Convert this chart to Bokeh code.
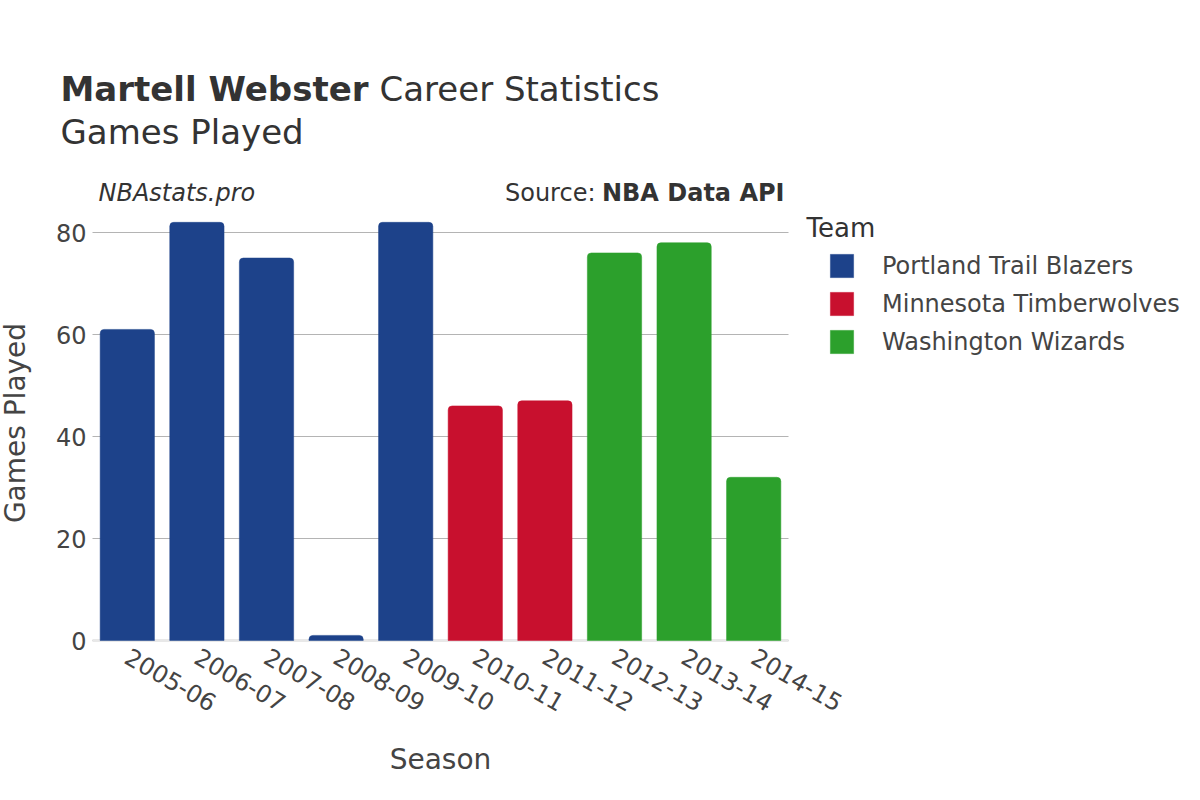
import math
from bokeh.plotting import figure
from bokeh.models import (ColumnDataSource, Range1d, Label, Legend, LegendItem,
                          FixedTicker, LinearAxis, Grid)
from bokeh.embed import file_html
from bokeh.resources import INLINE

# ---- data ----
seasons = ["2005-06", "2006-07", "2007-08", "2008-09", "2009-10",
           "2010-11", "2011-12", "2012-13", "2013-14", "2014-15"]
games = [61, 82, 75, 1, 82, 46, 47, 76, 78, 32]
teams = ["Portland Trail Blazers"] * 5 + ["Minnesota Timberwolves"] * 2 + ["Washington Wizards"] * 3
team_order = ["Portland Trail Blazers", "Minnesota Timberwolves", "Washington Wizards"]
team_colors = ["#1D428A", "#C8102E", "#2CA02C"]
y_ticks = [0, 20, 40, 60, 80]
y_max = 85.3

# ---- layout (screen pixels) ----
FONT = "DejaVu Sans"
TXT = "#444444"
DARK = "#333333"
W, H = 1200, 800
PL, PR, PT, PB = 92, 788, 205, 640          # plot area on the canvas
n = len(seasons)
cat_w = (PR - PL) / n
ppu = (PB - PT) / y_max
x_lo, x_hi = -0.5, n - 0.5

p = figure(width=W, height=H,
           x_range=Range1d(x_lo - PL / cat_w, x_lo + (W - PL) / cat_w),
           y_range=Range1d(-(H - PB) / ppu, PB / ppu),
           x_axis_type=None, y_axis_type=None,
           output_backend="svg", toolbar_location=None,
           min_border_left=0, min_border_right=0, min_border_top=0, min_border_bottom=0)
p.outline_line_color = None
p.background_fill_color = "white"
p.border_fill_color = "white"
p.xgrid.visible = False
p.ygrid.visible = False

# grid lines limited to the plot area
p.add_layout(Grid(dimension=1, ticker=FixedTicker(ticks=y_ticks), cross_bounds=(x_lo, x_hi),
                  grid_line_color="#b4b4b4", grid_line_width=1))
p.add_layout(Grid(dimension=1, ticker=FixedTicker(ticks=[0]), cross_bounds=(x_lo, x_hi),
                  grid_line_color="#e8e8e8", grid_line_width=3))

items = []
x_idx = list(range(n))
for team, col in zip(team_order, team_colors):
    idx = [i for i, t in enumerate(teams) if t == team]
    src = ColumnDataSource(dict(x=[x_idx[i] for i in idx],
                                games=[games[i] for i in idx],
                                season=[seasons[i] for i in idx]))
    r = p.vbar(x="x", top="games", width=0.78, source=src,
               fill_color=col, line_color=col, line_width=0.5,
               border_radius=(4, 4, 0, 0))
    items.append(LegendItem(label=team, renderers=[r]))

# axes drawn at fixed locations inside the canvas
yax = LinearAxis(fixed_location=x_lo, ticker=FixedTicker(ticks=y_ticks), bounds=(0, y_max),
                 axis_label="Games Played")
xax = LinearAxis(fixed_location=0, ticker=FixedTicker(ticks=x_idx), bounds=(x_lo, x_hi),
                 major_label_overrides={i: s for i, s in zip(x_idx, seasons)},
                 axis_label="Season")
for ax in (xax, yax):
    ax.axis_line_color = None
    ax.major_tick_line_color = None
    ax.minor_tick_line_color = None
    ax.major_label_text_font = FONT
    ax.major_label_text_font_size = "24px"
    ax.major_label_text_color = TXT
    ax.axis_label_text_font = FONT
    ax.axis_label_text_font_size = "28px"
    ax.axis_label_text_font_style = "normal"
    ax.axis_label_text_color = TXT
yax.major_label_standoff = 0
yax.axis_label_standoff = 21
xax.major_label_standoff = 8
xax.axis_label_standoff = 20
xax.major_label_orientation = -math.pi / 6
p.add_layout(yax, "left")
p.add_layout(xax, "below")

# legend
legend = Legend(items=items, location=(827, 444), orientation="vertical",
                padding=0, margin=0, spacing=9, glyph_width=29, glyph_height=29,
                label_height=22, label_standoff=26, border_line_color=None,
                background_fill_alpha=0, label_text_font=FONT,
                label_text_font_size="24px", label_text_color=TXT)
p.add_layout(legend, "center")

def lab(x, y, text, size, style="normal", align="left", color=DARK):
    p.add_layout(Label(x=x, y=y, x_units="screen", y_units="screen", text=text,
                       text_font=FONT, text_font_size=size, text_font_style=style,
                       text_align=align, text_baseline="middle", text_color=color))

lab(60, H - 88, "Martell Webster", "34px", style="bold")
lab(379, H - 88, "Career Statistics", "34px")
lab(60, H - 131, "Games Played", "34px")
lab(98, H - 192, "NBAstats.pro", "24px", style="italic")
lab(784, H - 192, "NBA Data API", "24px", style="bold", align="right")
lab(595, H - 192, "Source:", "24px", align="right")
lab(806, H - 227, "Team", "26px")

open("out.html", "w").write(file_html(p, INLINE))
